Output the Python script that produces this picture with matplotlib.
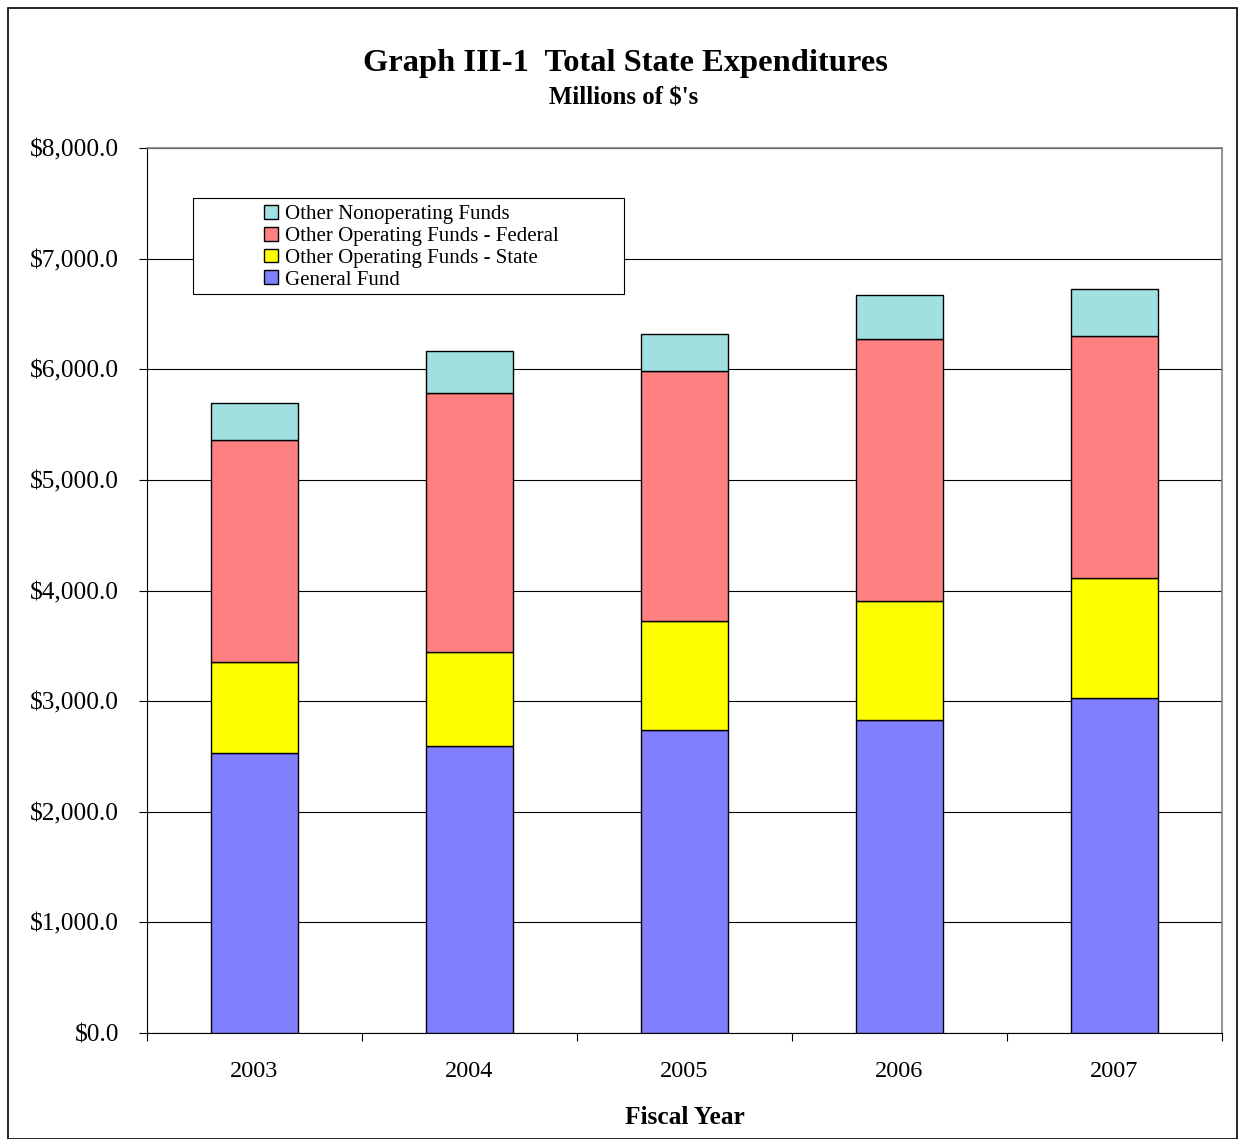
import matplotlib
matplotlib.use("Agg")
import matplotlib.pyplot as plt
from matplotlib.patches import Rectangle
import numpy as np

years = ["2003", "2004", "2005", "2006", "2007"]
general_fund = [2532, 2595, 2740, 2830, 3029]
state_funds = [822, 850, 985, 1076, 1085]
federal_funds = [2008, 2342, 2261, 2369, 2188]
nonoperating = [334, 379, 334, 398, 425]

series_names = ["General Fund", "Other Operating Funds - State",
                "Other Operating Funds - Federal", "Other Nonoperating Funds"]
colors = ["#8080FF", "#FFFF00", "#FF8080", "#A0E0E0"]

plt.rcParams['font.family'] = ['Liberation Serif', 'DejaVu Serif']

W, H = 1238, 1139
fig = plt.figure(figsize=(W / 100, H / 100), dpi=100)
fig.add_artist(Rectangle((8 / W, 0), (1237 - 8) / W, (H - 8) / H, transform=fig.transFigure,
                         fill=False, edgecolor="black", linewidth=1.2))

L, R, T, B = 147, 1222, 148, 1033
ax = fig.add_axes([L / W, (H - B) / H, (R - L) / W, (B - T) / H])
x = np.arange(len(years))
bottom = np.zeros(len(years))
handles = []
for vals, name, c in zip([general_fund, state_funds, federal_funds, nonoperating], series_names, colors):
    b = ax.bar(x, vals, width=0.405, bottom=bottom, color=c, edgecolor="black", linewidth=1.0,
               label=name, zorder=3)
    handles.append(b)
    bottom += np.array(vals)

ax.set_xlim(-0.5, len(years) - 0.5)
ax.set_ylim(0, 8000)
ax.set_yticks(np.arange(0, 8001, 1000))
ax.set_yticklabels([f"${v:,.1f}" for v in np.arange(0, 8001, 1000)], fontsize=18.3)
ax.yaxis.grid(True, color="black", linewidth=0.8, zorder=0)
ax.set_axisbelow(True)
ax.set_xticks(x)
ax.set_xticklabels(years, fontsize=17.5)
ax.tick_params(axis='x', which='major', length=0, pad=20.5)
ax.set_xticks(np.arange(-0.5, len(years), 1.0), minor=True)
ax.tick_params(axis='x', which='minor', length=5.5, width=0.8, direction='out')
ax.tick_params(axis='y', length=6, width=0.8, direction='out', pad=14)
ax.spines['top'].set_color('#808080')
ax.spines['right'].set_color('#808080')
ax.spines['top'].set_linewidth(1.2)
ax.spines['right'].set_linewidth(1.2)
ax.set_xlabel("Fiscal Year", fontsize=18.3, fontweight='bold', labelpad=17)

# legend frame (fixed size, as in reference)
lx0, lx1, ly0, ly1 = 193, 624, 198, 294
frame = Rectangle(((lx0 - L) / (R - L), (B - ly1) / (B - T)), (lx1 - lx0) / (R - L), (ly1 - ly0) / (B - T),
                  transform=ax.transAxes, facecolor='white', edgecolor='black', linewidth=0.8, zorder=5)
ax.add_patch(frame)
leg = ax.legend(handles[::-1], series_names[::-1], loc='upper left',
                bbox_to_anchor=((264 - L) / (R - L), (B - 205) / (B - T)), fontsize=15,
                frameon=False, handlelength=0.65, handleheight=0.65, handletextpad=0.35,
                labelspacing=0.12, borderpad=0.0, borderaxespad=0)
leg.set_zorder(6)

fig.text(625 / W, 1 - 64 / H, "Graph III-1  Total State Expenditures", ha='center', va='center',
         fontsize=23.4, fontweight='bold')
fig.text(624 / W, 1 - 98 / H, "Millions of $'s", ha='center', va='center',
         fontsize=17.8, fontweight='bold')

fig.savefig("out.png", dpi=100)
